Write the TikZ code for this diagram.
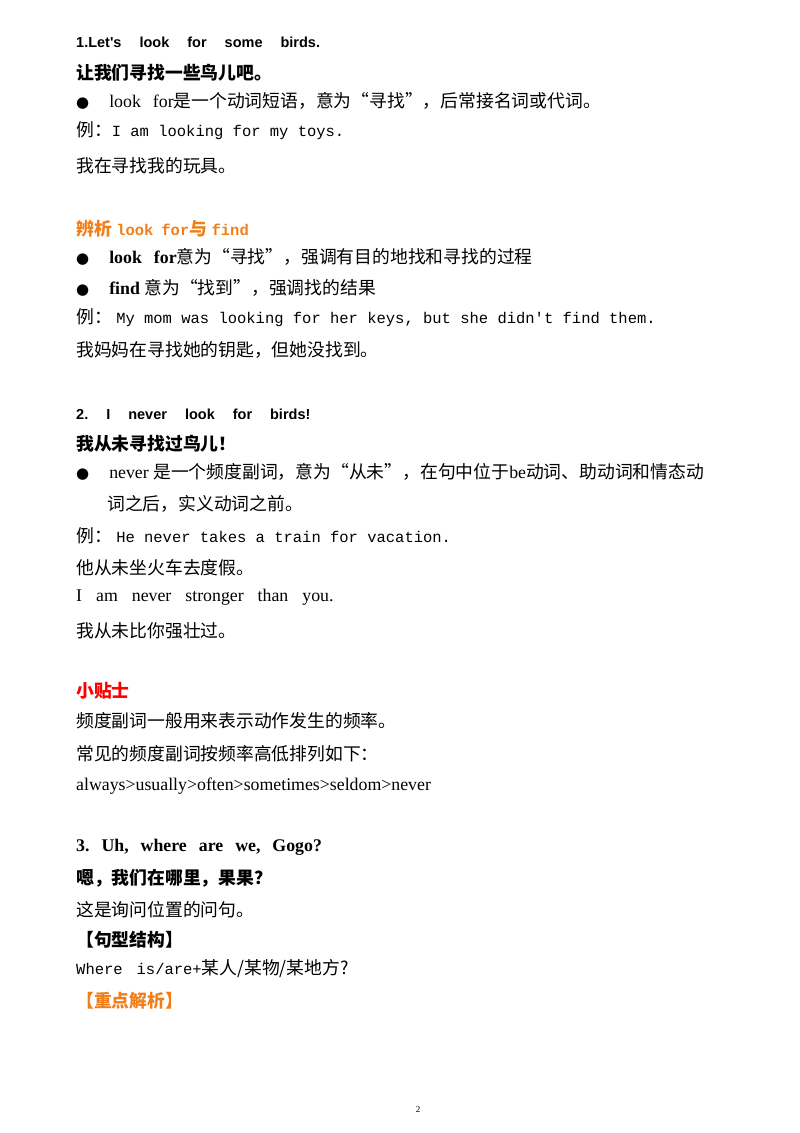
\documentclass[tikz,border=0pt]{standalone}
\usepackage{fontspec}
\setmainfont{Liberation Serif}
\newfontfamily\cjk{Noto Sans CJK SC}
\newfontfamily\arial{Liberation Sans}
\newfontfamily\mono{Liberation Mono}
\newfontfamily\djv{DejaVu Sans}
\definecolor{orng}{HTML}{F07F1A}
\newcommand{\ms}{\mono\fontsize{15.5}{17}\selectfont}
\begin{document}
\begin{tikzpicture}[x=1pt,y=1pt,
  t/.style={anchor=west,inner sep=0pt,font=\fontsize{17.8}{20}\selectfont},
  h/.style={t,font=\arial\bfseries\fontsize{14.5}{16}\selectfont}]
\useasboundingbox (0,0) rectangle (800,-1133);
\newcommand{\wsp}{\hspace{18pt}}
\node[h] (a1) at (76,-42) {1.Let's\wsp look\wsp for\wsp some\wsp birds.};
\node[t] (a2) at (76,-73) {\cjk\bfseries 让我们寻找一些鸟儿吧。};
\node[t] (a3) at (76,-101) {{\djv\fontsize{15}{16}\selectfont ●}\hspace{20pt}look\hspace{12pt}for{\cjk 是一个动词短语，意为“寻找”，后常接名词或代词。}};
\node[t] (a4) at (76,-131) {{\cjk 例：}{\ms I am looking for my toys.}};
\node[t] (a5) at (76,-166) {\cjk 我在寻找我的玩具。};
\node[t,text=orng] (b1) at (76,-229) {{\cjk\bfseries 辨析} {\ms\bfseries look\hspace{8pt}for}{\cjk\bfseries 与} {\ms\bfseries find}};
\node[t] (b2) at (76,-257) {{\djv\fontsize{15}{16}\selectfont ●}\hspace{20pt}\textbf{look\hspace{12pt}for}{\cjk 意为“寻找”，强调有目的地找和寻找的过程}};
\node[t] (b3) at (76,-288) {{\djv\fontsize{15}{16}\selectfont ●}\hspace{20pt}\textbf{find} {\cjk 意为“找到”，强调找的结果}};
\node[t] (b4) at (76,-318) {{\cjk 例：} {\ms My mom was looking for her keys, but she didn't find them.}};
\node[t] (b5) at (76,-350) {\cjk 我妈妈在寻找她的钥匙，但她没找到。};
\node[h] (c1) at (76,-414) {2.\wsp I\wsp never\wsp look\wsp for\wsp birds!};
\node[t] (c2) at (76,-444) {\cjk\bfseries 我从未寻找过鸟儿！};
\node[t] (c3) at (76,-472) {{\djv\fontsize{15}{16}\selectfont ●}\hspace{20pt}never {\cjk 是一个频度副词，意为“从未”，在句中位于}be{\cjk 动词、助动词和情态动}};
\node[t] (c4) at (107,-504) {\cjk 词之后，实义动词之前。};
\node[t] (c5) at (76,-536) {{\cjk 例：} {\ms He never takes a train for vacation.}};
\node[t] (c6) at (76,-568) {\cjk 他从未坐火车去度假。};
\node[t] (c7) at (76,-597) {I\hspace{14pt}am\hspace{14pt}never\hspace{14pt}stronger\hspace{14pt}than\hspace{14pt}you.};
\node[t] (c8) at (76,-631) {\cjk 我从未比你强壮过。};
\node[t,text=red] (d1) at (76,-691) {\cjk\bfseries 小贴士};
\node[t] (d2) at (76,-721) {\cjk 频度副词一般用来表示动作发生的频率。};
\node[t] (d3) at (76,-754) {\cjk 常见的频度副词按频率高低排列如下：};
\node[t] (d4) at (76,-786) {always>usually>often>sometimes>seldom>never};
\node[t] (e1) at (76,-847) {\bfseries 3.\hspace{12pt}Uh,\hspace{12pt}where\hspace{12pt}are\hspace{12pt}we,\hspace{12pt}Gogo?};
\node[t] (e2) at (76,-878) {\cjk\bfseries 嗯，我们在哪里，果果？};
\node[t] (e3) at (76,-910) {\cjk 这是询问位置的问句。};
\node[t] (e4) at (76,-940) {\cjk\bfseries 【句型结构】};
\node[t] (e5) at (76,-969) {{\ms Where\hspace{14pt}is/are+}{\cjk 某人/某物/某地方?}};
\node[t,text=orng] (e6) at (76,-1001) {\cjk\bfseries 【重点解析】};
\node[inner sep=0pt,font=\fontsize{9}{10}\selectfont] (pg) at (418,-1110) {2};
\end{tikzpicture}
\end{document}
